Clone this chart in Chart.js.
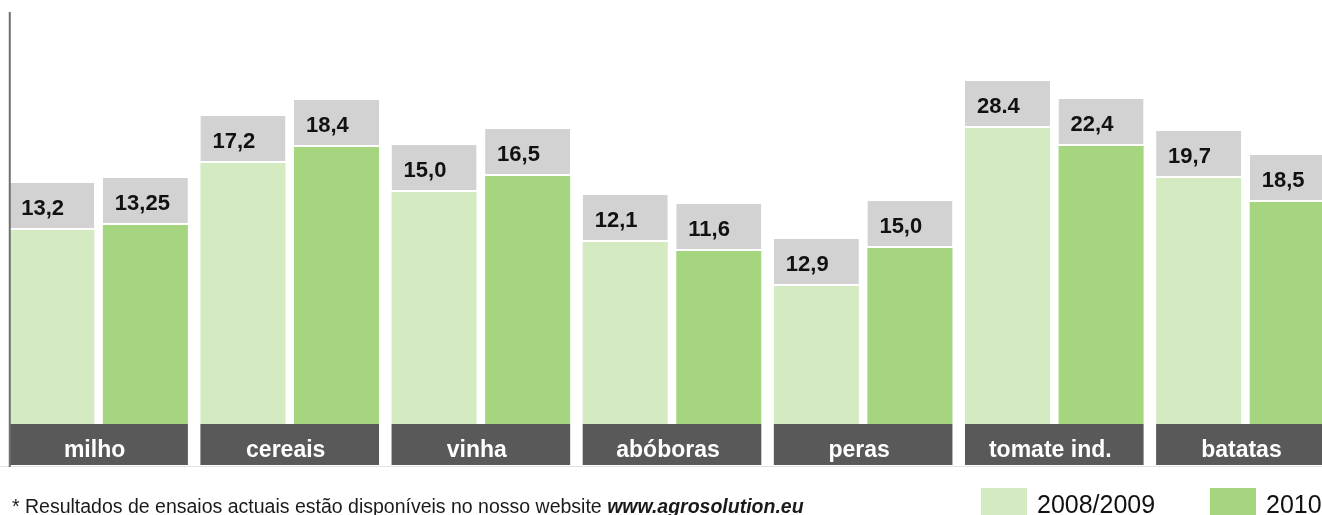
<!DOCTYPE html>
<html>
<head>
<meta charset="utf-8">
<script src="https://cdn.jsdelivr.net/npm/chart.js@4"></script>
<style>
    html, body { margin: 0; padding: 0; background: #fff; overflow: hidden; }
    .wrap { position: relative; width: 1322px; height: 515px; overflow: hidden; font-family: Arial, "Liberation Sans", sans-serif; }
    .chart-box { position: absolute; left: 0; top: 0; width: 1345px; height: 515px; }
    .note { position: absolute; left: 12px; top: 496px; font-size: 19.5px; line-height: 20px; color: #1a1a1a; white-space: nowrap; }
    .note b { font-style: italic; }
    .legend-item { position: absolute; top: 488px; height: 30px; }
    .legend-item span.sw { position: absolute; left: 0; top: 0; width: 46px; height: 30px; }
    .legend-item span.tx { position: absolute; left: 56px; top: 4px; font-size: 25px; line-height: 25px; color: #111; white-space: nowrap; }
</style>
</head>
<body>
<div class="wrap">
    <div class="chart-box"><canvas id="c" width="1345" height="515"></canvas></div>
    <div class="note">* Resultados de ensaios actuais estão disponíveis no nosso website <b>www.agrosolution.eu</b></div>
    <div class="legend-item" style="left:981px"><span class="sw" id="sw1"></span><span class="tx" id="lg1"></span></div>
    <div class="legend-item" style="left:1210px"><span class="sw" id="sw2"></span><span class="tx" id="lg2"></span></div>
</div>
<script>
// categorias e valores impressos nas caixas
const categories = ['milho', 'cereais', 'vinha', 'abóboras', 'peras', 'tomate ind.', 'batatas'];
const seriesNames = ['2008/2009', '2010'];
const labels2008 = ['13,2', '17,2', '15,0', '12,1', '12,9', '28.4', '19,7'];
const labels2010 = ['13,25', '18,4', '16,5', '11,6', '15,0', '22,4', '18,5'];
// altura das barras tal como desenhadas no original (não está à escala)
const bars2008 = [194, 261, 232, 182, 138, 296, 246];
const bars2010 = [199, 277, 248, 173, 176, 278, 222];
const boxHeight = 47;

const LIGHT = '#d4ebc1';
const DARK = '#a5d57f';
const BOX = '#d2d2d2';
const BAND = '#595959';

document.getElementById('sw1').style.background = LIGHT;
document.getElementById('sw2').style.background = DARK;
document.getElementById('lg1').textContent = seriesNames[0];
document.getElementById('lg2').textContent = seriesNames[1];

const boxes = categories.map(() => boxHeight);

const decorations = {
    id: 'decorations',
    afterDatasetsDraw(chart) {
        const ctx = chart.ctx;
        const area = chart.chartArea;
        const m0 = chart.getDatasetMeta(0);
        const m2 = chart.getDatasetMeta(2);

        ctx.save();
        // faixa escura com o nome da cultura
        categories.forEach((name, i) => {
            const a = m0.data[i], b = m2.data[i];
            const left = a.x - a.width / 2;
            const right = b.x + b.width / 2;
            ctx.fillStyle = BAND;
            ctx.fillRect(left, area.bottom, right - left, 41);
            ctx.fillStyle = '#ffffff';
            ctx.font = 'bold 23px Arial, "Liberation Sans", sans-serif';
            ctx.textAlign = 'center';
            ctx.textBaseline = 'alphabetic';
            ctx.fillText(name, (left + right) / 2 - 4, area.bottom + 33);
        });

        // linha clara por baixo
        ctx.fillStyle = '#e2e2e2';
        ctx.fillRect(0, area.bottom + 42, chart.width, 1);

        // eixo vertical
        const first = m0.data[0];
        ctx.fillStyle = '#707070';
        ctx.fillRect(first.x - first.width / 2 - 0.5, 12, 2, area.bottom + 43 - 12);

        // valores nas caixas cinzentas
        ctx.fillStyle = '#111';
        ctx.font = 'bold 22px Arial, "Liberation Sans", sans-serif';
        ctx.textAlign = 'left';
        ctx.textBaseline = 'middle';
        [[1, labels2008], [3, labels2010]].forEach(([di, txt]) => {
            chart.getDatasetMeta(di).data.forEach((el, i) => {
                const mid = (el.y + el.base - 2) / 2 + 3;
                ctx.fillText(txt[i], el.x - el.width / 2 + 12, mid);
            });
        });
        ctx.restore();
    }
};

new Chart(document.getElementById('c').getContext('2d'), {
    type: 'bar',
    data: {
        labels: categories,
        datasets: [
            { label: seriesNames[0], data: bars2008, backgroundColor: LIGHT, stack: 'a', borderWidth: 0 },
            {
                label: 'box2008', data: boxes, backgroundColor: BOX, stack: 'a',
                borderColor: '#ffffff', borderWidth: { top: 0, left: 0, right: 0, bottom: 2 }, borderSkipped: false
            },
            { label: seriesNames[1], data: bars2010, backgroundColor: DARK, stack: 'b', borderWidth: 0 },
            {
                label: 'box2010', data: boxes, backgroundColor: BOX, stack: 'b',
                borderColor: '#ffffff', borderWidth: { top: 0, left: 0, right: 0, bottom: 2 }, borderSkipped: false
            }
        ]
    },
    options: {
        responsive: false,
        animation: false,
        categoryPercentage: 0.979,
        barPercentage: 0.909,
        layout: { padding: { left: 3, right: 4, top: 12, bottom: 91 } },
        scales: {
            x: { display: false },
            y: { display: false, stacked: true, min: 0, max: 412 }
        },
        plugins: {
            legend: { display: false },
            tooltip: { enabled: false }
        }
    },
    plugins: [decorations]
});
</script>
</body>
</html>
